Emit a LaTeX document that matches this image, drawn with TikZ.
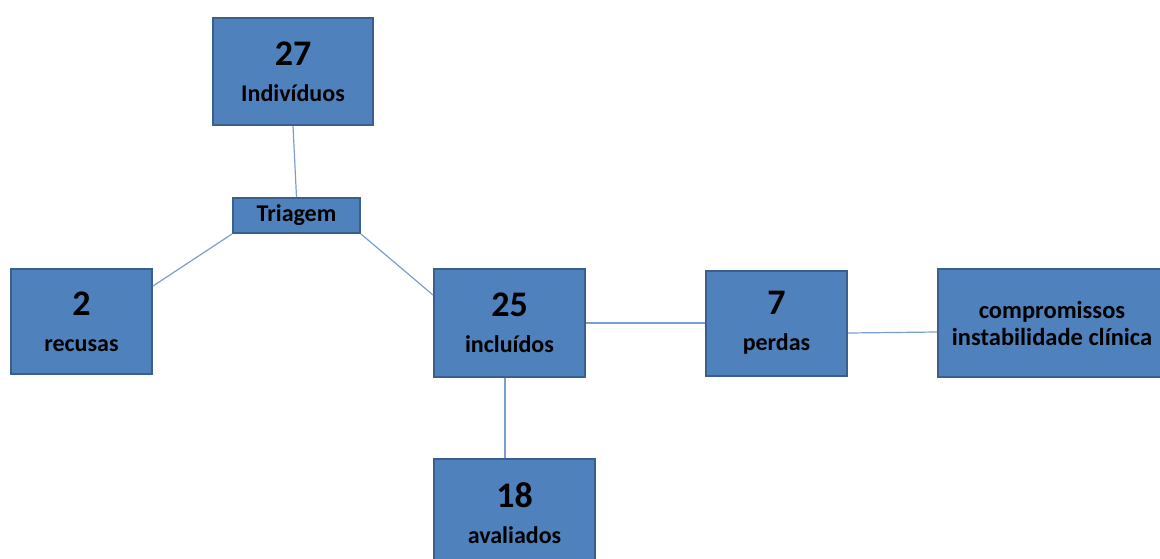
\documentclass[tikz,border=0pt]{standalone}
\usepackage{fontspec}
\setmainfont{Carlito}
\usetikzlibrary{positioning}
\definecolor{boxfill}{HTML}{4F81BD}
\definecolor{boxline}{HTML}{3A5F8C}
\definecolor{linkcol}{HTML}{7A9ED3}
\newcommand{\num}[1]{{\fontsize{36}{40}\selectfont #1}}

\begin{document}
\begin{tikzpicture}[box/.style = {draw=boxline, fill=boxfill, line width=2pt, inner sep=0pt,
                        align=center, font=\fontsize{24}{36}\selectfont\bfseries},
                    link/.style = {draw=linkcol, line width=1.2pt}]
                        \useasboundingbox (0pt,0pt) rectangle (1160pt,-558pt);

                        \node[box, minimum width=160pt, minimum height=107pt](ind) at (293pt,-71.5pt){\num{27}\\Indivíduos};
                        \node[box, minimum width=127pt, minimum height=35pt](tri)[below=71pt of ind, xshift=3.5pt]{Triagem};
                        \node[box, minimum width=141pt, minimum height=105pt](rec)[below left=34pt and 79pt of tri]{\num{2}\\recusas};
                        \node[box, minimum width=151pt, minimum height=108pt](inc)[below right=34pt and 72pt of tri]{\num{25}\\incluídos};
                        \node[box, minimum width=141pt, minimum height=105pt](per)[right=119pt of inc]{\num{7}\\perdas};
                        \node[box, minimum width=228pt, minimum height=108pt, font=\fontsize{24.5}{27}\selectfont\bfseries](comp)[right=89pt of per]{compromissos\\instabilidade clínica};
                        \node[box, minimum width=161pt, minimum height=108pt](ava)[below=80pt of inc, xshift=5pt]{\num{18}\\avaliados};

                        \draw[link] (ind.south) -- (tri.north);
                        \draw[link] (tri.south west) -- ([yshift=-18pt]rec.north east);
                        \draw[link] (tri.south east) -- ([yshift=-27pt]inc.north west);
                        \draw[link] (inc.east) -- (per.west);
                        \draw[link] ([yshift=-10pt]per.east) -- ([yshift=-9pt]comp.west);
                        \draw[link] ([xshift=-4.5pt]inc.south) -- ([xshift=-9.5pt]ava.north);
                    \end{tikzpicture}
\end{document}
